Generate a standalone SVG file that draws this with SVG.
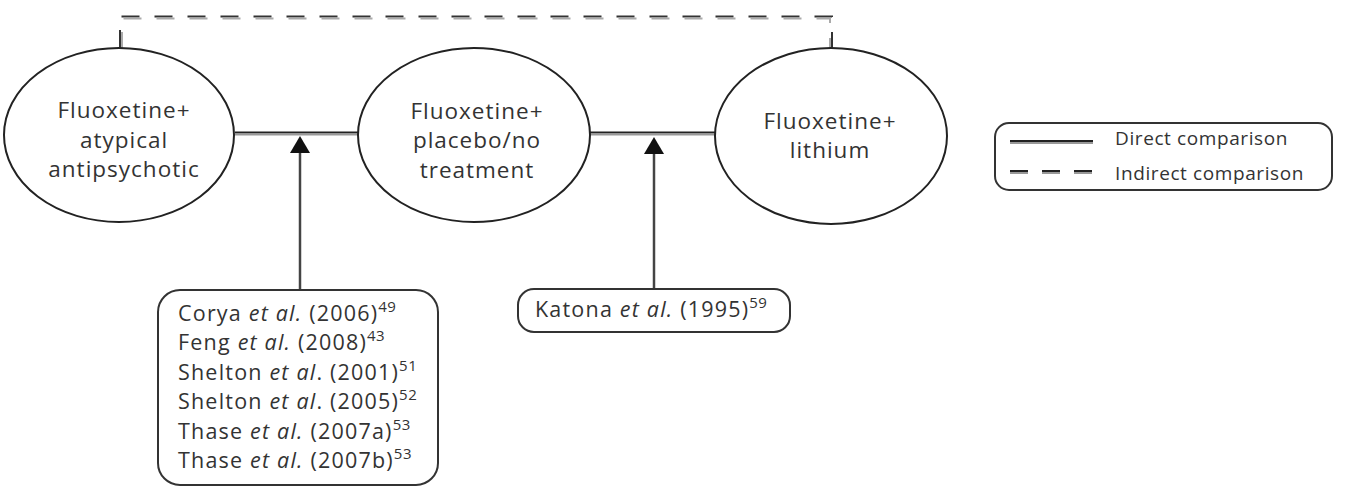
<svg xmlns="http://www.w3.org/2000/svg" width="1353" height="493" viewBox="0 0 1353 493">
<style>
text{font-family:"Open Sans","DejaVu Sans",sans-serif;fill:#333;}
.node ellipse{fill:#fff;stroke:#222;stroke-width:2;}
.et{font-size:22.5px;letter-spacing:1px;text-anchor:middle;}
.bt{font-size:21.5px;letter-spacing:1.2px;}
.lt{font-size:19px;letter-spacing:0.6px;}
.box{fill:#fff;stroke:#333;stroke-width:2;}
.d1{stroke:#222;stroke-width:2;fill:none;}
.d2{stroke:#999;stroke-width:2;fill:none;}
.dash1{stroke:#333;stroke-width:2;fill:none;stroke-dasharray:18 15;}
.dash2{stroke:#aaa;stroke-width:2;fill:none;stroke-dasharray:18 15;}
.shaft{stroke:#444;stroke-width:2.5;}
.head{fill:#111;}
.sup{font-size:15px;letter-spacing:0.5px;}
</style>
<g id="connectors">
<path class="dash1" d="M120,48 V16.5 H832 V48"/>
<path class="dash2" d="M122,48 V18.5 H830 V48" stroke-dashoffset="2"/>
<line class="d1" x1="235" y1="132.5" x2="358" y2="132.5"/>
<line class="d2" x1="235" y1="134.5" x2="358" y2="134.5"/>
<line class="d1" x1="590" y1="132.5" x2="715" y2="132.5"/>
<line class="d2" x1="590" y1="134.5" x2="715" y2="134.5"/>
<line class="shaft" x1="300" y1="150" x2="300" y2="290"/>
<polygon class="head" points="300,136 290,153 310,153"/>
<line class="shaft" x1="654" y1="151" x2="654" y2="289"/>
<polygon class="head" points="654,137 644,154 664,154"/>
</g>
<g id="node-atypical" class="node">
<ellipse cx="119" cy="135" rx="115" ry="87"/>
<text class="et" x="124" y="118">Fluoxetine+</text>
<text class="et" x="124" y="148">atypical</text>
<text class="et" x="124" y="177">antipsychotic</text>
</g>
<g id="node-placebo" class="node">
<ellipse cx="474" cy="135" rx="116" ry="87"/>
<text class="et" x="477" y="119">Fluoxetine+</text>
<text class="et" x="477" y="148">placebo/no</text>
<text class="et" x="477" y="178">treatment</text>
</g>
<g id="node-lithium" class="node">
<ellipse cx="831" cy="136" rx="116" ry="88"/>
<text class="et" x="830" y="129">Fluoxetine+</text>
<text class="et" x="830" y="158">lithium</text>
</g>
<g id="refs-left">
<rect class="box" x="158" y="290" width="280" height="195" rx="22"/>
<text class="bt" x="178" y="321">Corya <tspan font-style="italic">et al.</tspan> (2006)<tspan class="sup" dy="-9">49</tspan></text>
<text class="bt" x="178" y="350">Feng <tspan font-style="italic">et al.</tspan> (2008)<tspan class="sup" dy="-9">43</tspan></text>
<text class="bt" x="178" y="380">Shelton <tspan font-style="italic">et al</tspan>. (2001)<tspan class="sup" dy="-9">51</tspan></text>
<text class="bt" x="178" y="409">Shelton <tspan font-style="italic">et al</tspan>. (2005)<tspan class="sup" dy="-9">52</tspan></text>
<text class="bt" x="178" y="439">Thase <tspan font-style="italic">et al.</tspan> (2007a)<tspan class="sup" dy="-9">53</tspan></text>
<text class="bt" x="178" y="468">Thase <tspan font-style="italic">et al.</tspan> (2007b)<tspan class="sup" dy="-9">53</tspan></text>
</g>
<g id="refs-right">
<rect class="box" x="518" y="289" width="272" height="43" rx="16"/>
<text class="bt" x="535" y="317">Katona <tspan font-style="italic">et al.</tspan> (1995)<tspan class="sup" dy="-9">59</tspan></text>
</g>
<g id="legend">
<rect class="box" x="995" y="123" width="337" height="67" rx="14"/>
<line class="d1" x1="1010" y1="141" x2="1093" y2="141"/>
<line class="d2" x1="1010" y1="143" x2="1093" y2="143"/>
<line class="d1" x1="1010" y1="171" x2="1093" y2="171" stroke-dasharray="18 14"/>
<line class="d2" x1="1010" y1="173" x2="1093" y2="173" stroke-dasharray="18 14"/>
<text class="lt" x="1115" y="145">Direct comparison</text>
<text class="lt" x="1115" y="180">Indirect comparison</text>
</g>
</svg>
